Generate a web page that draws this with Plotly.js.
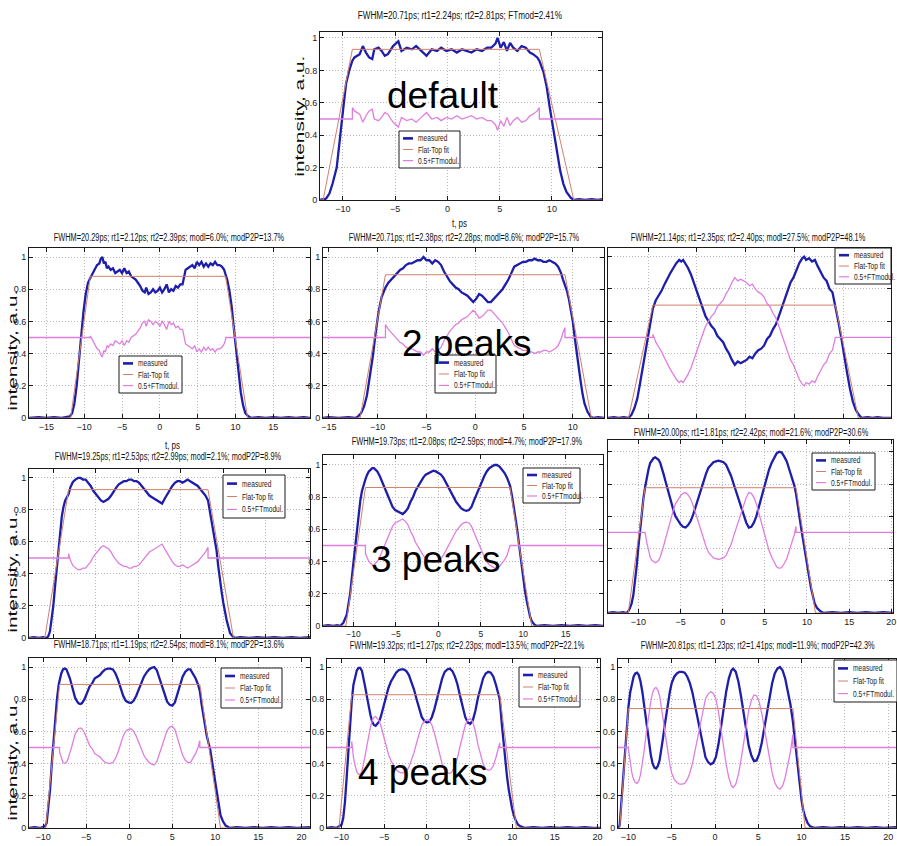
<!DOCTYPE html>
<html>
<head>
<meta charset="utf-8">
<script src="https://cdn.plot.ly/plotly-3.0.1.min.js"></script>
<style>
  html, body { margin: 0; padding: 0; background: #ffffff; }
  #chart { width: 897px; height: 846px; }
</style>
</head>
<body>
<div id="chart"></div>
<script>
// Flat-top pulse measurements: intensity (a.u.) versus time t (ps), one array of [t, I] per panel.
const pulseDefault = [[-12.2,0],[-12.0,0.005],[-11.9,0],[-11.6,0.01],[-11.3,0.04],[-11.0,0.1],[-10.6,0.2],[-10.3,0.36],[-10.0,0.55],[-9.7,0.72],[-9.4,0.8],[-9.1,0.86],[-8.9,0.88],[-8.4,0.9],[-8.1,0.95],[-7.8,0.91],[-7.5,0.88],[-7.2,0.87],[-7.0,0.93],[-6.6,0.94],[-6.3,0.92],[-6.0,0.89],[-5.7,0.9],[-5.2,0.95],[-4.7,0.98],[-4.4,0.92],[-3.9,0.94],[-3.4,0.93],[-3.0,0.95],[-2.5,0.92],[-2.0,0.89],[-1.5,0.93],[-1.0,0.92],[-0.6,0.94],[-0.1,0.92],[0.4,0.93],[0.9,0.91],[1.4,0.93],[1.8,0.92],[2.3,0.91],[2.8,0.93],[3.3,0.92],[3.8,0.94],[4.2,0.94],[4.6,0.965],[4.8,1.0],[5.1,0.94],[5.4,0.975],[5.7,0.92],[6.0,0.97],[6.3,0.94],[6.7,0.92],[7.1,0.95],[7.5,0.94],[7.9,0.91],[8.2,0.9],[8.6,0.88],[8.8,0.86],[9.2,0.79],[9.5,0.7],[9.8,0.57],[10.2,0.41],[10.5,0.29],[10.8,0.18],[11.1,0.1],[11.4,0.05],[11.8,0.015],[12.1,0],[12.6,0.005],[13.2,0],[13.8,0.005],[14.4,0],[14.8,0.005]];

const pulse2a = [[-17.3,0],[-16,0.005],[-15,0],[-14,0.005],[-13,0],[-12.2,0.005],[-11.9,0.01],[-11.6,0.03],[-11.3,0.09],[-11.0,0.2],[-10.7,0.36],[-10.4,0.52],[-10.1,0.66],[-9.8,0.77],[-9.5,0.84],[-9.2,0.87],[-8.9,0.9],[-8.6,0.93],[-8.3,0.95],[-8.0,0.96],[-7.8,0.99],[-7.6,1.0],[-7.4,0.96],[-7.2,0.97],[-7.0,0.93],[-6.8,0.94],[-6.5,0.92],[-6.2,0.93],[-5.9,0.9],[-5.6,0.91],[-5.3,0.92],[-5.0,0.9],[-4.7,0.93],[-4.4,0.9],[-4.1,0.91],[-3.8,0.88],[-3.5,0.87],[-3.2,0.86],[-2.9,0.84],[-2.6,0.82],[-2.3,0.79],[-2.0,0.78],[-1.8,0.81],[-1.5,0.77],[-1.2,0.78],[-0.9,0.8],[-0.6,0.78],[-0.3,0.79],[0,0.81],[0.3,0.78],[0.6,0.8],[0.9,0.83],[1.2,0.78],[1.5,0.8],[1.8,0.79],[2.1,0.82],[2.4,0.81],[2.7,0.83],[3.0,0.83],[3.2,0.88],[3.4,0.92],[3.7,0.93],[4.0,0.94],[4.3,0.95],[4.6,0.93],[4.9,0.97],[5.2,0.95],[5.5,0.97],[5.8,0.94],[6.1,0.96],[6.4,0.94],[6.7,0.96],[7.0,0.95],[7.3,0.97],[7.6,0.95],[7.9,0.95],[8.2,0.94],[8.5,0.92],[8.7,0.89],[8.9,0.86],[9.2,0.79],[9.5,0.69],[9.8,0.55],[10.1,0.41],[10.4,0.28],[10.7,0.16],[11.0,0.08],[11.3,0.03],[11.7,0.01],[12.1,0],[13,0.005],[14,0],[15,0.005],[16,0],[17,0.005],[18,0],[19,0.005],[19.85,0]];

const pulse2b = [[-15.6,0],[-15,0.005],[-14,0],[-13,0.005],[-12.3,0],[-12.0,0.01],[-11.7,0.03],[-11.4,0.07],[-11.1,0.14],[-10.8,0.25],[-10.5,0.38],[-10.2,0.53],[-9.9,0.66],[-9.6,0.75],[-9.2,0.81],[-8.9,0.84],[-8.6,0.86],[-8.3,0.88],[-8.0,0.9],[-7.7,0.92],[-7.4,0.93],[-7.1,0.95],[-6.8,0.96],[-6.5,0.96],[-6.2,0.97],[-5.9,0.98],[-5.6,0.98],[-5.3,1.0],[-5.0,0.98],[-4.7,0.98],[-4.4,0.96],[-4.1,0.98],[-3.8,0.97],[-3.5,0.95],[-3.2,0.91],[-2.9,0.88],[-2.6,0.85],[-2.3,0.83],[-2.0,0.81],[-1.7,0.8],[-1.4,0.78],[-1.1,0.77],[-0.8,0.76],[-0.5,0.74],[-0.2,0.72],[0.1,0.74],[0.4,0.77],[0.7,0.76],[1.0,0.74],[1.3,0.72],[1.6,0.72],[1.9,0.74],[2.2,0.76],[2.5,0.78],[2.8,0.8],[3.1,0.83],[3.4,0.86],[3.7,0.9],[4.0,0.94],[4.3,0.95],[4.6,0.96],[4.9,0.97],[5.2,0.97],[5.5,0.98],[5.8,0.98],[6.1,0.99],[6.4,0.98],[6.7,0.98],[7.0,0.97],[7.3,0.97],[7.6,0.98],[7.9,0.97],[8.2,0.96],[8.5,0.94],[8.8,0.9],[9.0,0.86],[9.2,0.83],[9.4,0.79],[9.6,0.74],[9.8,0.67],[10.0,0.6],[10.2,0.5],[10.4,0.4],[10.6,0.31],[10.8,0.23],[11.0,0.15],[11.2,0.09],[11.5,0.04],[11.8,0.01],[12.1,0],[12.6,0.005],[13.2,0]];

const pulse2c = [[-14.1,0],[-13.5,0.005],[-13.0,0],[-12.5,0.005],[-12.0,0],[-11.7,0.02],[-11.4,0.06],[-11.1,0.12],[-10.8,0.22],[-10.5,0.33],[-10.2,0.45],[-9.9,0.55],[-9.5,0.68],[-9.2,0.73],[-8.9,0.76],[-8.6,0.79],[-8.3,0.83],[-8.0,0.87],[-7.7,0.9],[-7.4,0.93],[-7.1,0.96],[-6.8,0.98],[-6.6,0.97],[-6.4,0.98],[-6.2,0.96],[-5.9,0.93],[-5.6,0.89],[-5.3,0.84],[-5.0,0.79],[-4.7,0.74],[-4.4,0.68],[-4.1,0.63],[-3.8,0.6],[-3.5,0.57],[-3.2,0.55],[-2.9,0.51],[-2.6,0.49],[-2.3,0.47],[-2.0,0.43],[-1.7,0.4],[-1.4,0.36],[-1.1,0.33],[-0.8,0.35],[-0.5,0.34],[-0.2,0.35],[0.1,0.36],[0.4,0.38],[0.7,0.37],[1.0,0.4],[1.3,0.42],[1.6,0.43],[1.9,0.45],[2.2,0.49],[2.5,0.51],[2.8,0.55],[3.1,0.58],[3.4,0.63],[3.7,0.68],[4.0,0.73],[4.3,0.79],[4.6,0.84],[4.9,0.87],[5.2,0.92],[5.5,0.96],[5.8,0.99],[6.0,1.0],[6.2,0.98],[6.5,0.99],[6.8,0.97],[7.1,0.98],[7.4,0.94],[7.7,0.9],[8.0,0.87],[8.3,0.85],[8.6,0.8],[8.9,0.78],[9.2,0.7],[9.5,0.6],[9.8,0.5],[10.1,0.38],[10.4,0.28],[10.7,0.18],[11.0,0.1],[11.3,0.05],[11.6,0.02],[11.9,0],[12.5,0.005],[13.0,0],[13.5,0.005],[14.1,0],[14.9,0]];

const pulse3a = [[-12.86,0],[-12.3,0.005],[-11.7,0],[-11.2,0.005],[-10.8,0],[-10.6,0.01],[-10.4,0.04],[-10.2,0.11],[-10.0,0.2],[-9.8,0.32],[-9.6,0.44],[-9.4,0.55],[-9.2,0.66],[-9.0,0.76],[-8.8,0.82],[-8.6,0.86],[-8.4,0.88],[-8.2,0.9],[-8.0,0.94],[-7.7,0.975],[-7.4,0.99],[-7.1,1.0],[-6.8,1.0],[-6.5,0.99],[-6.2,0.99],[-5.9,0.97],[-5.6,0.95],[-5.3,0.92],[-5.0,0.9],[-4.7,0.88],[-4.4,0.86],[-4.1,0.85],[-3.8,0.86],[-3.5,0.87],[-3.2,0.89],[-2.9,0.92],[-2.6,0.94],[-2.3,0.96],[-2.0,0.97],[-1.7,0.98],[-1.4,0.98],[-1.1,0.99],[-0.8,0.99],[-0.5,0.98],[-0.2,0.98],[0.1,0.97],[0.4,0.95],[0.7,0.93],[1.0,0.91],[1.3,0.89],[1.6,0.88],[1.9,0.87],[2.2,0.86],[2.5,0.85],[2.8,0.84],[3.1,0.87],[3.4,0.9],[3.7,0.92],[4.0,0.95],[4.3,0.97],[4.6,0.98],[4.9,0.98],[5.2,0.97],[5.5,0.98],[5.8,0.99],[6.1,0.98],[6.4,0.97],[6.7,0.96],[7.0,0.95],[7.3,0.93],[7.6,0.91],[7.9,0.89],[8.2,0.86],[8.4,0.8],[8.6,0.75],[8.8,0.69],[9.0,0.62],[9.2,0.55],[9.4,0.45],[9.6,0.36],[9.8,0.29],[10.0,0.22],[10.2,0.16],[10.4,0.11],[10.6,0.07],[10.8,0.03],[11.1,0.01],[11.4,0],[12,0.005],[13,0],[14,0.005],[15,0],[16,0.005],[17,0],[18,0.005],[19,0],[20.2,0.005]];

const pulse3b = [[-13.6,0],[-13,0.005],[-12.4,0],[-11.9,0.005],[-11.6,0],[-11.2,0.02],[-10.8,0.07],[-10.4,0.2],[-10.0,0.4],[-9.8,0.5],[-9.6,0.6],[-9.4,0.7],[-9.2,0.78],[-9.0,0.84],[-8.8,0.88],[-8.6,0.91],[-8.4,0.94],[-8.2,0.96],[-8.0,0.97],[-7.8,0.98],[-7.6,0.98],[-7.4,0.97],[-7.2,0.96],[-6.9,0.93],[-6.6,0.89],[-6.3,0.85],[-6.0,0.81],[-5.7,0.77],[-5.4,0.74],[-5.1,0.72],[-4.8,0.71],[-4.5,0.7],[-4.2,0.695],[-3.9,0.71],[-3.6,0.73],[-3.3,0.77],[-3.0,0.8],[-2.7,0.84],[-2.4,0.87],[-2.1,0.9],[-1.8,0.92],[-1.5,0.94],[-1.2,0.95],[-0.9,0.96],[-0.6,0.965],[-0.3,0.96],[0,0.95],[0.3,0.94],[0.6,0.92],[0.9,0.89],[1.2,0.86],[1.5,0.83],[1.8,0.8],[2.1,0.77],[2.4,0.75],[2.7,0.73],[3.0,0.72],[3.3,0.715],[3.6,0.72],[3.9,0.74],[4.2,0.78],[4.5,0.82],[4.8,0.86],[5.1,0.9],[5.4,0.93],[5.7,0.96],[6.0,0.98],[6.3,0.99],[6.6,1.0],[6.9,1.0],[7.2,0.99],[7.5,0.97],[7.8,0.95],[8.1,0.92],[8.45,0.87],[8.7,0.8],[9.0,0.71],[9.2,0.63],[9.4,0.55],[9.6,0.46],[9.8,0.38],[10.0,0.3],[10.2,0.22],[10.4,0.16],[10.6,0.1],[10.8,0.06],[11.0,0.03],[11.3,0.01],[11.6,0],[12.5,0.005],[13.5,0],[14.5,0.005],[15.5,0],[16.5,0.005],[17.5,0],[18.5,0.005],[19.4,0]];

const pulse3c = [[-13.6,0],[-13,0.005],[-12.4,0],[-11.8,0.005],[-11.4,0],[-11.2,0.01],[-11.0,0.03],[-10.8,0.06],[-10.6,0.11],[-10.4,0.19],[-10.2,0.29],[-10.0,0.41],[-9.8,0.52],[-9.6,0.62],[-9.4,0.71],[-9.2,0.78],[-9.0,0.84],[-8.8,0.89],[-8.6,0.93],[-8.4,0.95],[-8.2,0.96],[-8.0,0.965],[-7.8,0.96],[-7.6,0.95],[-7.4,0.93],[-7.2,0.9],[-7.0,0.86],[-6.8,0.82],[-6.6,0.78],[-6.4,0.74],[-6.2,0.7],[-6.0,0.66],[-5.8,0.63],[-5.6,0.6],[-5.3,0.57],[-5.0,0.55],[-4.7,0.535],[-4.4,0.53],[-4.1,0.545],[-3.8,0.57],[-3.5,0.61],[-3.2,0.66],[-2.9,0.71],[-2.6,0.77],[-2.3,0.82],[-2.0,0.86],[-1.7,0.9],[-1.4,0.92],[-1.1,0.935],[-0.8,0.94],[-0.5,0.945],[-0.2,0.94],[0.1,0.935],[0.4,0.92],[0.7,0.89],[1.0,0.85],[1.3,0.8],[1.6,0.75],[1.9,0.7],[2.2,0.65],[2.5,0.6],[2.8,0.56],[3.1,0.53],[3.4,0.535],[3.7,0.56],[4.0,0.6],[4.3,0.66],[4.6,0.72],[4.9,0.78],[5.2,0.84],[5.5,0.89],[5.8,0.93],[6.1,0.965],[6.4,0.99],[6.7,1.0],[7.0,0.995],[7.3,0.97],[7.6,0.94],[7.9,0.89],[8.2,0.84],[8.5,0.79],[8.7,0.74],[8.9,0.68],[9.1,0.6],[9.3,0.53],[9.5,0.46],[9.7,0.39],[9.9,0.33],[10.1,0.27],[10.3,0.21],[10.5,0.15],[10.7,0.1],[10.9,0.06],[11.2,0.03],[11.6,0.01],[12.0,0],[13,0.005],[14,0],[15,0.005],[16,0],[17,0.005],[18,0],[19,0.005],[20.2,0]];

const pulse4a = [[-11.65,0],[-11.0,0.005],[-10.4,0],[-10.0,0.005],[-9.8,0.01],[-9.6,0.03],[-9.4,0.12],[-9.2,0.24],[-9.0,0.4],[-8.8,0.55],[-8.6,0.69],[-8.4,0.8],[-8.2,0.89],[-8.1,0.92],[-7.9,0.96],[-7.7,0.985],[-7.5,0.99],[-7.3,0.985],[-7.1,0.96],[-6.9,0.93],[-6.7,0.89],[-6.5,0.85],[-6.3,0.81],[-6.1,0.79],[-5.9,0.775],[-5.7,0.77],[-5.5,0.775],[-5.2,0.8],[-4.9,0.84],[-4.6,0.88],[-4.3,0.9],[-4.0,0.93],[-3.7,0.94],[-3.4,0.95],[-3.1,0.97],[-2.8,0.985],[-2.5,0.99],[-2.2,0.99],[-1.9,0.985],[-1.6,0.96],[-1.3,0.92],[-1.0,0.87],[-0.7,0.82],[-0.4,0.79],[-0.1,0.78],[0.2,0.776],[0.5,0.79],[0.8,0.82],[1.1,0.86],[1.4,0.9],[1.7,0.94],[2.0,0.965],[2.3,0.985],[2.6,0.995],[2.9,1.0],[3.2,0.98],[3.5,0.93],[3.8,0.87],[4.1,0.82],[4.4,0.785],[4.7,0.765],[5.0,0.76],[5.3,0.78],[5.6,0.83],[5.9,0.89],[6.2,0.94],[6.5,0.97],[6.8,0.985],[7.1,0.985],[7.4,0.96],[7.7,0.93],[8.0,0.89],[8.2,0.85],[8.4,0.77],[8.6,0.7],[8.8,0.63],[9.0,0.575],[9.2,0.53],[9.4,0.49],[9.6,0.42],[9.8,0.35],[10.0,0.26],[10.3,0.17],[10.6,0.08],[10.9,0.04],[11.2,0.015],[11.7,0],[12.5,0.005],[13.5,0],[14.5,0.005],[15.5,0],[16.5,0.005],[17.5,0],[18.5,0.005],[19.5,0],[21.0,0.005]];

const pulse4b = [[-11.7,0],[-11.2,0.005],[-10.6,0],[-10.4,0.005],[-10.2,0.01],[-10.0,0.02],[-9.8,0.06],[-9.6,0.16],[-9.4,0.31],[-9.2,0.49],[-9.0,0.66],[-8.8,0.79],[-8.6,0.89],[-8.4,0.94],[-8.2,0.98],[-8.0,0.995],[-7.8,0.995],[-7.6,0.975],[-7.4,0.93],[-7.2,0.87],[-7.0,0.81],[-6.8,0.75],[-6.6,0.7],[-6.4,0.66],[-6.2,0.64],[-6.0,0.635],[-5.8,0.645],[-5.6,0.66],[-5.4,0.69],[-5.1,0.75],[-4.8,0.82],[-4.5,0.87],[-4.2,0.91],[-3.9,0.94],[-3.6,0.965],[-3.3,0.98],[-3.0,0.985],[-2.7,0.985],[-2.4,0.975],[-2.1,0.95],[-1.8,0.91],[-1.5,0.86],[-1.2,0.8],[-0.9,0.74],[-0.6,0.69],[-0.3,0.665],[0,0.655],[0.3,0.66],[0.6,0.69],[0.9,0.74],[1.2,0.81],[1.5,0.87],[1.8,0.93],[2.1,0.97],[2.4,0.985],[2.7,0.99],[3.0,0.975],[3.3,0.94],[3.6,0.89],[3.9,0.82],[4.2,0.75],[4.5,0.69],[4.8,0.655],[5.1,0.648],[5.4,0.67],[5.7,0.73],[6.0,0.81],[6.3,0.88],[6.6,0.93],[6.9,0.96],[7.2,0.97],[7.5,0.965],[7.8,0.94],[8.1,0.89],[8.3,0.85],[8.55,0.8],[8.8,0.64],[9.0,0.52],[9.2,0.41],[9.4,0.32],[9.6,0.24],[9.8,0.17],[10.0,0.12],[10.2,0.08],[10.4,0.05],[10.7,0.02],[11.0,0.01],[11.5,0],[12.5,0.005],[13.5,0],[14.5,0.005],[15.5,0],[16.5,0.005],[17.5,0],[18.5,0.005],[19.5,0],[20.3,0]];

const pulse4c = [[-11.2,0],[-11.1,0.005],[-11.0,0.02],[-10.8,0.16],[-10.6,0.33],[-10.4,0.5],[-10.2,0.64],[-10.0,0.75],[-9.8,0.84],[-9.6,0.9],[-9.4,0.94],[-9.2,0.96],[-9.0,0.965],[-8.8,0.95],[-8.6,0.91],[-8.4,0.85],[-8.2,0.77],[-8.0,0.68],[-7.8,0.59],[-7.6,0.51],[-7.4,0.45],[-7.2,0.4],[-7.0,0.375],[-6.8,0.37],[-6.6,0.385],[-6.4,0.42],[-6.2,0.48],[-6.0,0.56],[-5.8,0.64],[-5.6,0.72],[-5.4,0.79],[-5.2,0.85],[-5.0,0.9],[-4.7,0.94],[-4.4,0.96],[-4.1,0.97],[-3.8,0.97],[-3.5,0.965],[-3.2,0.94],[-2.9,0.9],[-2.6,0.84],[-2.3,0.76],[-2.0,0.67],[-1.7,0.58],[-1.4,0.5],[-1.1,0.44],[-0.8,0.41],[-0.5,0.396],[-0.2,0.405],[0.1,0.44],[0.4,0.52],[0.7,0.62],[1.0,0.74],[1.3,0.85],[1.6,0.93],[1.9,0.98],[2.1,0.99],[2.4,0.97],[2.7,0.91],[3.0,0.82],[3.3,0.71],[3.6,0.6],[3.9,0.51],[4.2,0.45],[4.5,0.416],[4.8,0.42],[5.1,0.46],[5.4,0.53],[5.7,0.62],[6.0,0.72],[6.3,0.82],[6.6,0.9],[6.9,0.96],[7.2,0.99],[7.5,1.0],[7.8,0.98],[8.1,0.93],[8.4,0.86],[8.7,0.77],[9.0,0.66],[9.2,0.56],[9.4,0.44],[9.6,0.33],[9.8,0.24],[10.0,0.17],[10.2,0.11],[10.4,0.07],[10.7,0.03],[11.0,0.01],[11.5,0],[12.5,0.005],[13.5,0],[14.5,0.005],[15.5,0],[16.5,0.005],[17.5,0],[18.5,0.005],[19.5,0],[20.9,0.005]];

const pulses = [pulseDefault, pulse2a, pulse2b, pulse2c, pulse3a, pulse3b, pulse3c, pulse4a, pulse4b, pulse4c];

// Flat-top fit of each pulse: level and the four corner times [start, top start, top end, end] in ps
const fitLevels = [0.93, 0.88, 0.89, 0.70, 0.927, 0.86, 0.777, 0.892, 0.828, 0.742];
const fitEdges = [
  [-11.9, -9.1, 8.8, 12.1],
  [-11.8, -9.2, 8.7, 11.6],
  [-11.8, -9.2, 9.2, 11.9],
  [-12.0, -9.5, 9.2, 11.55],
  [-11.0, -8.2, 8.2, 11.2],
  [-10.9, -8.6, 8.45, 11.0],
  [-11.2, -9.2, 8.7, 11.0],
  [-9.7, -8.1, 8.2, 10.6],
  [-10.3, -8.8, 8.55, 10.5],
  [-11.0, -10.0, 9.0, 10.4]
];

const titles = [
  'FWHM=20.71ps; rt1=2.24ps; rt2=2.81ps; FTmod=2.41%',
  'FWHM=20.29ps; rt1=2.12ps; rt2=2.39ps; modl=6.0%; modP2P=13.7%',
  'FWHM=20.71ps; rt1=2.38ps; rt2=2.28ps; modl=8.6%; modP2P=15.7%',
  'FWHM=21.14ps; rt1=2.35ps; rt2=2.40ps; modl=27.5%; modP2P=48.1%',
  'FWHM=19.25ps; rt1=2.53ps; rt2=2.99ps; modl=2.1%; modP2P=8.9%',
  'FWHM=19.73ps; rt1=2.08ps; rt2=2.59ps; modl=4.7%; modP2P=17.9%',
  'FWHM=20.00ps; rt1=1.81ps; rt2=2.42ps; modl=21.6%; modP2P=30.6%',
  'FWHM=18.71ps; rt1=1.19ps; rt2=2.54ps; modl=8.1%; modP2P=13.6%',
  'FWHM=19.32ps; rt1=1.27ps; rt2=2.23ps; modl=13.5%; modP2P=22.1%',
  'FWHM=20.81ps; rt1=1.23ps; rt2=1.41ps; modl=11.9%; modP2P=42.3%'
];
const seriesNames = ['measured', 'Flat-Top fit', '0.5+FTmodul.'];
const groupLabels = ['default', '2 peaks', '3 peaks', '4 peaks'];
const yLabel = 'intensity, a.u.';
const xLabel = 't, ps';

// ---- page geometry (pixels) ----
const W = 897, H = 846;
const px = v => v / W;
const py = v => 1 - v / H;

// plot box [left, top, right, bottom], visible time range, top of intensity axis, which tick labels show, legend box
const panels = [
  { frame: [320, 32, 602, 200],  xr: [-12.2, 14.8],  yTop: 1.037, xLab: true,  yLab: true,  leg: [399, 131, 61, 37], title: [460, 15] },
  { frame: [29, 248, 310, 418],  xr: [-17.3, 19.85], yTop: 1.056, xLab: true,  yLab: true,  leg: [119, 356, 63, 37], title: [169, 237] },
  { frame: [323, 248, 604, 418], xr: [-15.6, 13.2],  yTop: 1.056, xLab: true,  yLab: true,  leg: [435, 355, 61, 38], title: [464, 237] },
  { frame: [608, 248, 891, 418], xr: [-14.1, 14.9],  yTop: 1.054, xLab: false, yLab: false, leg: [835, 248, 56, 36], title: [748, 237] },
  { frame: [29, 469, 310, 638],  xr: [-12.86, 20.2], yTop: 1.056, xLab: false, yLab: true,  leg: [223, 475, 62, 43], title: [168, 456] },
  { frame: [323, 455, 603, 626], xr: [-13.6, 19.4],  yTop: 1.062, xLab: true,  yLab: true,  leg: [523, 468, 57, 35], title: [467, 441] },
  { frame: [608, 440, 893, 613], xr: [-13.6, 20.2],  yTop: 1.073, xLab: true,  yLab: false, leg: [812, 453, 63, 37], title: [751, 432] },
  { frame: [29, 658, 310, 828],  xr: [-11.65, 21.0], yTop: 1.056, xLab: true,  yLab: true,  leg: [221, 668, 61, 40], title: [169, 644] },
  { frame: [327, 659, 600, 828], xr: [-11.7, 20.3],  yTop: 1.05,  xLab: true,  yLab: true,  leg: [519, 667, 61, 40], title: [467, 645] },
  { frame: [618, 659, 896, 828], xr: [-11.2, 20.9],  yTop: 1.05,  xLab: true,  yLab: true,  leg: [834, 660, 63, 42], title: [757, 645] }
];

const SANS = '"Liberation Sans", Arial, Helvetica, sans-serif';
const BLUE = '#1e1eaa';
const FIT = '#d0806c';
const MOD = '#e07ee0';

// 0.5 + (fit - measured) on the flat top, 0.5 elsewhere, with a vertical step at the top edges
function modulation(t, m, e, level) {
  const x = [], y = [];
  const eps = 1e-9;
  t.forEach((ti, i) => {
    const inside = ti >= e[1] - eps && ti <= e[2] + eps;
    if (Math.abs(ti - e[1]) < eps) { x.push(ti); y.push(0.5); }
    x.push(ti);
    y.push(inside ? 0.5 + level - m[i] : 0.5);
    if (Math.abs(ti - e[2]) < eps) { x.push(ti); y.push(0.5); }
  });
  return { x, y };
}

const traces = [];
const layout = {
  width: W, height: H,
  margin: { l: 0, r: 0, t: 0, b: 0 },
  paper_bgcolor: '#ffffff',
  plot_bgcolor: '#ffffff',
  showlegend: false,
  shapes: [],
  annotations: []
};

// annotations that get a horizontal stretch (condensed or widened lettering) after drawing
const stretched = [];
function addText(ann, sx, origin) {
  layout.annotations.push(Object.assign({ xref: 'paper', yref: 'paper', showarrow: false }, ann));
  if (sx) stretched.push({ i: layout.annotations.length - 1, sx: sx, origin: origin || '50% 50%' });
}

pulses.forEach((p, i) => {
  const k = i === 0 ? '' : String(i + 1);
  const t = p.map(d => d[0]);
  const m = p.map(d => d[1]);
  const e = fitEdges[i];
  const L = fitLevels[i];
  const common = { xaxis: 'x' + k, yaxis: 'y' + k, mode: 'lines', hoverinfo: 'skip' };
  traces.push(Object.assign({ x: t, y: m, name: seriesNames[0], line: { color: BLUE, width: 2.3 } }, common));
  traces.push(Object.assign({
    x: [t[0], e[0], e[1], e[2], e[3], t[t.length - 1]],
    y: [0, 0, L, L, 0, 0],
    name: seriesNames[1], line: { color: FIT, width: 1 }
  }, common));
  const mod = modulation(t, m, e, L);
  traces.push(Object.assign({ x: mod.x, y: mod.y, name: seriesNames[2], line: { color: MOD, width: 1.3 } }, common));
});

panels.forEach((pn, i) => {
  const k = i === 0 ? '' : String(i + 1);
  const [l, t, r, b] = pn.frame;
  const axisBase = {
    showline: true, mirror: 'ticks', linecolor: '#1a1a1a', linewidth: 1,
    ticks: 'inside', ticklen: 4, tickcolor: '#1a1a1a', tickwidth: 1,
    showgrid: true, gridcolor: '#b8b8b8', griddash: '1px,2px', gridwidth: 1,
    zeroline: false, fixedrange: true,
    tickfont: { family: SANS, size: i === 5 ? 8.5 : 9, color: '#222' }
  };
  layout['xaxis' + k] = Object.assign({}, axisBase, {
    domain: [px(l), px(r)], range: pn.xr, anchor: 'y' + k,
    tick0: 0, dtick: 5, showticklabels: pn.xLab
  });
  layout['yaxis' + k] = Object.assign({}, axisBase, {
    domain: [py(b), py(t)], range: [0, pn.yTop], anchor: 'x' + k,
    tick0: 0, dtick: 0.2, showticklabels: pn.yLab
  });

  // panel title
  addText({
    x: px(pn.title[0]), y: py(pn.title[1]), xanchor: 'center', yanchor: 'middle',
    text: titles[i], font: { family: SANS, size: i === 0 ? 11.5 : 11, color: '#111' }
  }, i === 0 ? 0.71 : 0.67);

  // legend box with the three series
  const [lx, ly, lw, lh] = pn.leg;
  layout.shapes.push({
    type: 'rect', xref: 'paper', yref: 'paper', layer: 'above',
    x0: px(lx), x1: px(lx + lw), y0: py(ly + lh), y1: py(ly),
    fillcolor: '#ffffff', line: { color: '#1a1a1a', width: 1 }
  });
  const rows = [0.2, 0.5, 0.8];
  const sample = [
    { color: BLUE, width: 2.6 },
    { color: FIT, width: 1 },
    { color: MOD, width: 1.2 }
  ];
  rows.forEach((f, j) => {
    const yy = ly + lh * f;
    layout.shapes.push({
      type: 'line', xref: 'paper', yref: 'paper', layer: 'above',
      x0: px(lx + 4), x1: px(lx + 14), y0: py(yy), y1: py(yy),
      line: sample[j]
    });
    addText({
      x: px(lx + 17), y: py(yy), xanchor: 'left', yanchor: 'middle',
      text: seriesNames[j], font: { family: SANS, size: 8.5, color: '#222' }
    }, 0.78, '0% 50%');
  });
});

// axis titles of the left-hand panels
[[300, 116], [12, 350], [12, 572], [12, 760]].forEach(([x, y]) => {
  addText({
    x: px(x), y: py(y), xanchor: 'center', yanchor: 'middle', textangle: -90,
    text: yLabel, font: { family: SANS, size: 13, color: '#111' }
  }, 1.6);
});
[[460, 223], [172, 445]].forEach(([x, y]) => {
  addText({
    x: px(x), y: py(y), xanchor: 'center', yanchor: 'middle',
    text: xLabel, font: { family: SANS, size: 10, color: '#111' }
  }, 0.8);
});

// large group labels
[[443, 95], [467, 343], [436, 559], [423, 772]].forEach(([x, y], j) => {
  addText({
    x: px(x), y: py(y), xanchor: 'center', yanchor: 'middle',
    text: groupLabels[j], font: { family: SANS, size: 37, color: '#000' }
  });
});

Plotly.newPlot('chart', traces, layout, { staticPlot: true, displayModeBar: false }).then(gd => {
  stretched.forEach(s => {
    const node = gd.querySelector('g.annotation[data-index="' + s.i + '"] text.annotation-text');
    if (!node) return;
    node.style.transformBox = 'fill-box';
    node.style.transformOrigin = s.origin;
    node.style.transform = 'scaleX(' + s.sx + ')';
  });
});
</script>
</body>
</html>
